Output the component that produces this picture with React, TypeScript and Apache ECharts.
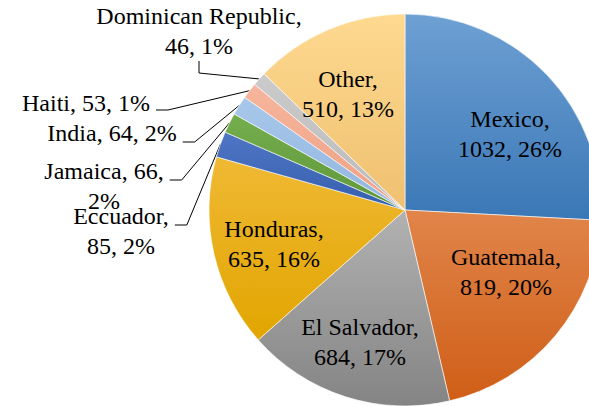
import React, { useEffect, useRef } from 'react';
import * as echarts from 'echarts';

const categories = ['Mexico', 'Guatemala', 'El Salvador', 'Honduras', 'Eccuador', 'Jamaica', 'India', 'Haiti', 'Dominican Republic', 'Other'];
const values = [1032, 819, 684, 635, 85, 66, 64, 53, 46, 510];
const percentLabels = ['26%', '20%', '17%', '16%', '2%', '2%', '2%', '1%', '1%', '13%'];

// where to break the label text: after name, after value, or none
const labelBreaks = ['name', 'name', 'name', 'name', 'name', 'value', 'none', 'none', 'name', 'name'];
const insideLabel = [true, true, true, true, false, false, false, false, false, true];

const sliceColors: [string, string][] = [
  ['#6ea0d3', '#3a77b6'],
  ['#e1854a', '#cf5e17'],
  ['#b2b2b2', '#848484'],
  ['#efb934', '#e2a500'],
  ['#4f76c4', '#345fae'],
  ['#75ae4d', '#5f973a'],
  ['#a8c7ea', '#92b6df'],
  ['#f6b69c', '#eea084'],
  ['#cbcbcb', '#b9b9b9'],
  ['#fed990', '#efc070'],
];

// label anchor (px): inside labels are centred, outside labels are top-anchored
const labelAnchors: [number, number][] = [
  [510, 134],
  [506, 272],
  [360, 342],
  [274, 244],
  [124, 189],
  [107, 144],
  [115, 118],
  [89, 88],
  [199, 1],
  [348, 94],
];
const labelPaddings: number[][] = [
  [0, 0, 0, 0],
  [0, 0, 0, 0],
  [0, 0, 0, 0],
  [0, 0, 0, 0],
  [12, 6, 0, 0],
  [12, 6, 0, 0],
  [0, 6, 18, 0],
  [0, 6, 14, 0],
  [0, 0, 0, 0],
  [0, 0, 0, 0],
];

const FONT = 'Liberation Serif';

function labelText(i: number): string {
  const n = categories[i];
  const v = String(values[i]);
  const p = percentLabels[i];
  const b = labelBreaks[i];
  if (b === 'name') return `${n},\n${v}, ${p}`;
  if (b === 'value') return `${n}, ${v},\n${p}`;
  return `${n}, ${v}, ${p}`;
}

export default function App() {
  const ref = useRef<HTMLDivElement>(null);
  useEffect(() => {
    if (!ref.current) return;
    const chart = echarts.init(ref.current, undefined, { renderer: 'svg' });
    const data = categories.map((name, i) => ({
      name,
      value: values[i],
      itemStyle: {
        color: new echarts.graphic.LinearGradient(0, 0, 0, 1, [
          { offset: 0, color: sliceColors[i][0] },
          { offset: 1, color: sliceColors[i][1] },
        ]),
      },
      label: {
        show: true,
        position: insideLabel[i] ? 'inside' : 'outside',
        formatter: () => labelText(i),
        padding: labelPaddings[i],
      },
      labelLine: { show: !insideLabel[i] },
    }));
    chart.setOption({
      animation: false,
      textStyle: { fontFamily: FONT },
      series: [
        {
          type: 'pie',
          center: [405, 210],
          radius: [0, 196],
          startAngle: 90,
          clockwise: true,
          avoidLabelOverlap: false,
          itemStyle: { borderColor: '#ffffff', borderWidth: 0.6 },
          label: {
            show: true,
            color: '#000',
            fontFamily: FONT,
            fontSize: 24,
            lineHeight: 30,
            align: 'center',
          },
          labelLine: {
            show: true,
            length: 20,
            length2: 12,
            lineStyle: { color: '#000', width: 1 },
          },
          labelLayout: (params: any) => {
            const i = params.dataIndex;
            const c = labelAnchors[i];
            return {
              x: c[0],
              y: c[1],
              align: 'center',
              verticalAlign: insideLabel[i] ? 'middle' : 'top',
            };
          },
          emphasis: { disabled: true },
          data,
        },
      ],
    });
    return () => chart.dispose();
  }, []);
  return (
    <div
      ref={ref}
      style={{ position: 'absolute', left: 0, top: 0, width: 589, height: 406, background: '#fff' }}
    />
  );
}
